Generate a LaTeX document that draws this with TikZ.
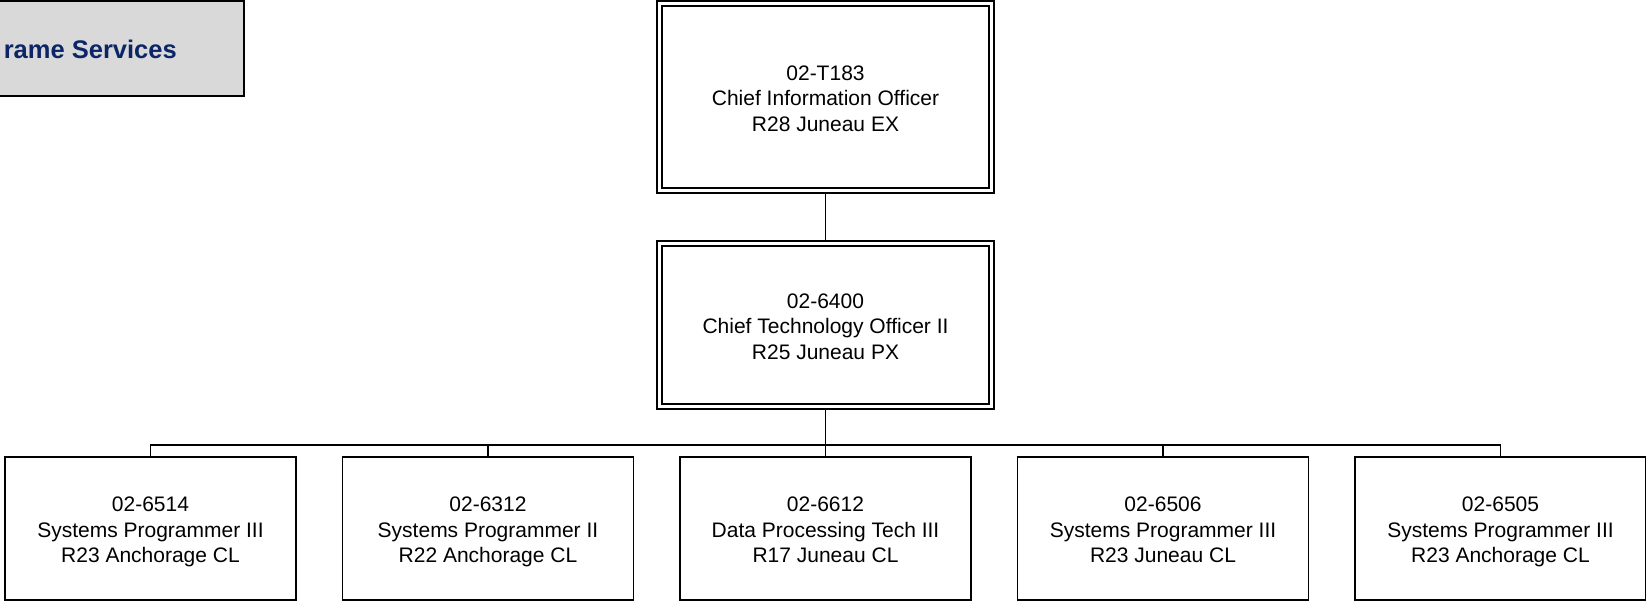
\documentclass[tikz,border=0pt]{standalone}
\usepackage{fontspec}
\setmainfont{Liberation Sans}
\definecolor{boxgray}{HTML}{D9D9D9}
\definecolor{navy}{HTML}{0B2566}
\newcommand{\fl}{\rule{0pt}{22.5pt}}
\newcommand{\botrule}{\rule[-4.6pt]{0pt}{4.6pt}}
\tikzset{
  posbase/.style={draw=black, fill=white, align=center, inner sep=0pt,
    font=\fontsize{21}{25.5}\selectfont,
    execute at end node=\botrule},
  dblbox/.style={posbase, double, double distance=3.2pt, line width=1.8pt,
    outer sep=3.4pt, minimum width=332pt},
  leafbox/.style={posbase, line width=1.8pt, minimum width=291pt, minimum height=143pt},
  titlebox/.style={draw=black, fill=boxgray, line width=2pt, minimum width=256pt,
    minimum height=95pt, inner sep=0pt},
  titletext/.style={text=navy, inner sep=0pt, anchor=east,
    font=\fontsize{25.5}{30}\selectfont\bfseries},
  conn/.style={draw=black, line width=1.8pt}
}
\begin{document}
\begin{tikzpicture}[x=1pt,y=-1pt]
\useasboundingbox (0,0) rectangle (1646,601);
\node[titlebox] (title) at (116,48.5) {};
\node[titletext] (titlet) at (177,49) {rame Services};

\node[dblbox, minimum height=187pt] (cio) at (825.5,97)
  {\fl 02-T183\\Chief Information Officer\\R28 Juneau EX};
\node[dblbox, minimum height=163pt] (cto) at (825.5,325)
  {\fl 02-6400\\Chief Technology Officer II\\R25 Juneau PX};

\node[leafbox] (b1) at (150.5,528.5) {\fl 02-6514\\Systems Programmer III\\R23 Anchorage CL};
\node[leafbox] (b2) at (488,528.5) {\fl 02-6312\\Systems Programmer II\\R22 Anchorage CL};
\node[leafbox] (b3) at (825.5,528.5) {\fl 02-6612\\Data Processing Tech III\\R17 Juneau CL};
\node[leafbox] (b4) at (1163,528.5) {\fl 02-6506\\Systems Programmer III\\R23 Juneau CL};
\node[leafbox] (b5) at (1500.5,528.5) {\fl 02-6505\\Systems Programmer III\\R23 Anchorage CL};

\coordinate (bus) at (825.5,445);
\draw[conn] (cio.south) -- (cto.north);
\draw[conn] (cto.south) -- (bus);
\draw[conn] (bus) -| (b1.north);
\draw[conn] (bus) -| (b2.north);
\draw[conn] (bus) -- (b3.north);
\draw[conn] (bus) -| (b4.north);
\draw[conn] (bus) -| (b5.north);
\end{tikzpicture}
\end{document}
